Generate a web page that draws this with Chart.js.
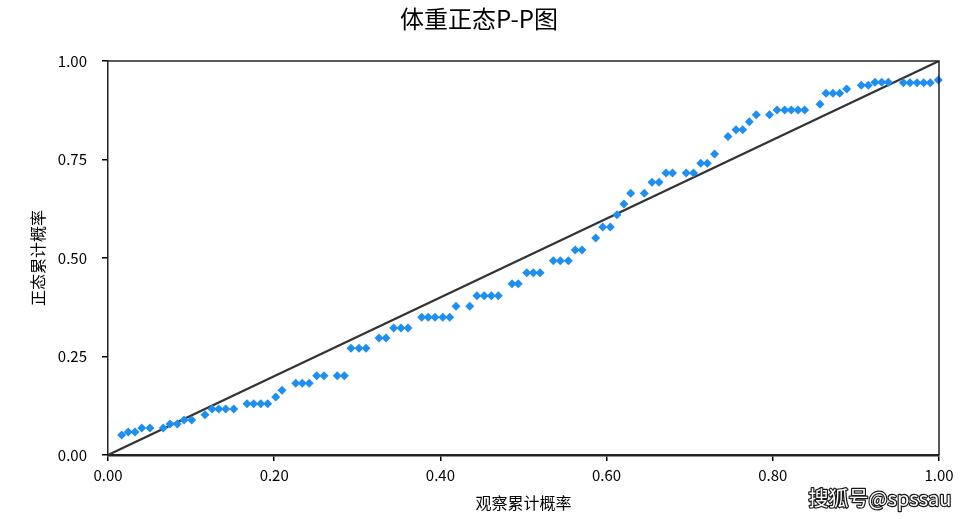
<!DOCTYPE html>
<html>
<head>
<meta charset="utf-8">
<script src="https://cdn.jsdelivr.net/npm/chart.js@4.4.1/dist/chart.umd.min.js"></script>
<style>
html,body{margin:0;padding:0;background:#fff;}
#c{display:block;}
</style>
</head>
<body>
<canvas id="c" width="971" height="519"></canvas>
<script>
// ---- data ----
const chartTitle = '体重正态P-P图';
const xTitle = '观察累计概率';
const yTitle = '正态累计概率';
const watermark = '搜狐号@spssau';

const observedProb = [
  0.0165,0.0244,0.0325,0.0406,0.0505,0.0665,0.0746,0.0834,0.0915,0.1007,
  0.1167,0.1252,0.1332,0.1416,0.1513,0.1673,0.1753,0.1838,0.1922,0.2018,
  0.2094,0.2259,0.2338,0.2422,0.2511,0.2599,0.2759,0.2844,0.2924,0.3020,
  0.3105,0.3261,0.3345,0.3438,0.3526,0.3610,0.3775,0.3854,0.3935,0.4028,
  0.4112,0.4188,0.4353,0.4440,0.4528,0.4613,0.4697,0.4862,0.4937,0.5039,
  0.5118,0.5199,0.5359,0.5443,0.5539,0.5623,0.5704,0.5869,0.5953,0.6045,
  0.6125,0.6209,0.6290,0.6454,0.6546,0.6631,0.6715,0.6793,0.6958,0.7046,
  0.7133,0.7212,0.7299,0.7461,0.7557,0.7638,0.7717,0.7801,0.7960,0.8051,
  0.8143,0.8223,0.8303,0.8384,0.8568,0.8640,0.8724,0.8805,0.8889,0.9065,
  0.9149,0.9230,0.9310,0.9390,0.9571,0.9651,0.9735,0.9816,0.9895,0.9992
];
const expectedProb = [
  0.0508,0.0585,0.0585,0.0685,0.0685,0.0685,0.0787,0.0787,0.0888,0.0888,
  0.1023,0.1168,0.1168,0.1168,0.1168,0.1302,0.1302,0.1302,0.1302,0.1472,
  0.1642,0.1820,0.1820,0.1820,0.2013,0.2013,0.2013,0.2013,0.2708,0.2708,
  0.2708,0.2970,0.2970,0.3223,0.3223,0.3223,0.3495,0.3495,0.3495,0.3495,
  0.3495,0.3774,0.3774,0.4043,0.4043,0.4043,0.4043,0.4348,0.4348,0.4627,
  0.4627,0.4627,0.4931,0.4931,0.4931,0.5203,0.5203,0.5508,0.5787,0.5787,
  0.6099,0.6371,0.6642,0.6642,0.6921,0.6921,0.7157,0.7157,0.7157,0.7157,
  0.7406,0.7406,0.7640,0.8084,0.8254,0.8254,0.8457,0.8635,0.8635,0.8756,
  0.8756,0.8756,0.8756,0.8756,0.8901,0.9180,0.9180,0.9180,0.9289,0.9383,
  0.9383,0.9459,0.9459,0.9459,0.9449,0.9449,0.9449,0.9449,0.9449,0.9518
];
const refLineX = [0, 1];
const refLineY = [0, 1];

const xTickValues = [0, 0.2, 0.4, 0.6, 0.8, 1.0];
const xTickLabels = ['0.00','0.20','0.40','0.60','0.80','1.00'];
const yTickValues = [0, 0.25, 0.5, 0.75, 1.0];
const yTickLabels = ['0.00','0.25','0.50','0.75','1.00'];

// ---- chart ----
const FONT = "'Noto Sans CJK SC', 'Noto Sans', sans-serif";
Chart.defaults.font.family = FONT;
Chart.defaults.color = '#000';

const scatterData = observedProb.map((x, i) => ({x: x, y: expectedProb[i]}));
const lineData = refLineX.map((x, i) => ({x: x, y: refLineY[i]}));

const framePlugin = {
  id: 'frame',
  afterDatasetsDraw(chart) {
    const {ctx, chartArea: a} = chart;
    ctx.save();
    ctx.strokeStyle = '#222';
    ctx.lineWidth = 1.5;
    ctx.beginPath();
    ctx.moveTo(a.left, a.top);
    ctx.lineTo(a.right, a.top);
    ctx.lineTo(a.right, a.bottom);
    ctx.stroke();
    ctx.restore();
  },
  afterDraw(chart) {
    const {ctx} = chart;
    ctx.save();
    // title
    ctx.fillStyle = '#000';
    ctx.font = "24px " + FONT;
    ctx.textAlign = 'center';
    ctx.textBaseline = 'middle';
    ctx.fillText(chartTitle, 479, 19);
    // watermark
    ctx.font = "20px " + FONT;
    ctx.textAlign = 'center';
    ctx.textBaseline = 'middle';
    ctx.lineJoin = 'round';
    ctx.strokeStyle = 'rgba(0,0,0,0.9)';
    ctx.lineWidth = 2.5;
    ctx.strokeText(watermark, 880, 498);
    ctx.fillStyle = '#fff';
    ctx.fillText(watermark, 880, 498);
    ctx.restore();
  }
};

new Chart(document.getElementById('c'), {
  type: 'scatter',
  data: {
    datasets: [
      {
        type: 'scatter',
        data: scatterData,
        pointStyle: 'rectRot',
        pointRadius: 4.5,
        pointBackgroundColor: '#1e8ff0',
        pointBorderColor: '#1e8ff0',
        pointBorderWidth: 0,
        clip: false,
        order: 1
      },
      {
        type: 'line',
        data: lineData,
        borderColor: '#333',
        borderWidth: 2.2,
        pointRadius: 0,
        fill: false,
        order: 2
      }
    ]
  },
  options: {
    responsive: false,
    animation: false,
    devicePixelRatio: 1,
    layout: {padding: {top: 61, right: 32, bottom: 0, left: 0}},
    plugins: {
      legend: {display: false},
      title: {display: false},
      tooltip: {enabled: false}
    },
    scales: {
      x: {
        type: 'linear',
        min: 0, max: 1,
        afterBuildTicks: s => { s.ticks = xTickValues.map(v => ({value: v})); },
        afterFit: s => { s.height = 64; },
        ticks: {
          callback: (v, i) => xTickLabels[i],
          font: {size: 15},
          color: '#000',
          padding: 5,
          maxRotation: 0,
          autoSkip: false
        },
        grid: {drawOnChartArea: false, drawTicks: true, tickLength: 6, color: '#000', lineWidth: 1.5},
        border: {display: true, color: '#222', width: 2.5},
        title: {display: true, text: xTitle, font: {size: 16}, color: '#000', padding: {top: 0, bottom: 6}}
      },
      y: {
        type: 'linear',
        min: 0, max: 1,
        afterBuildTicks: s => { s.ticks = yTickValues.map(v => ({value: v})); },
        afterFit: s => { s.width = 108; },
        ticks: {
          callback: (v, i) => yTickLabels[i],
          font: {size: 15},
          color: '#000',
          padding: 15,
          autoSkip: false
        },
        grid: {drawOnChartArea: false, drawTicks: true, tickLength: 6, color: '#000', lineWidth: 1.5},
        border: {display: true, color: '#222', width: 1.5},
        title: {display: true, text: yTitle, font: {size: 16}, color: '#000', padding: {top: 28, bottom: 0}}
      }
    }
  },
  plugins: [framePlugin]
});
</script>
</body>
</html>
